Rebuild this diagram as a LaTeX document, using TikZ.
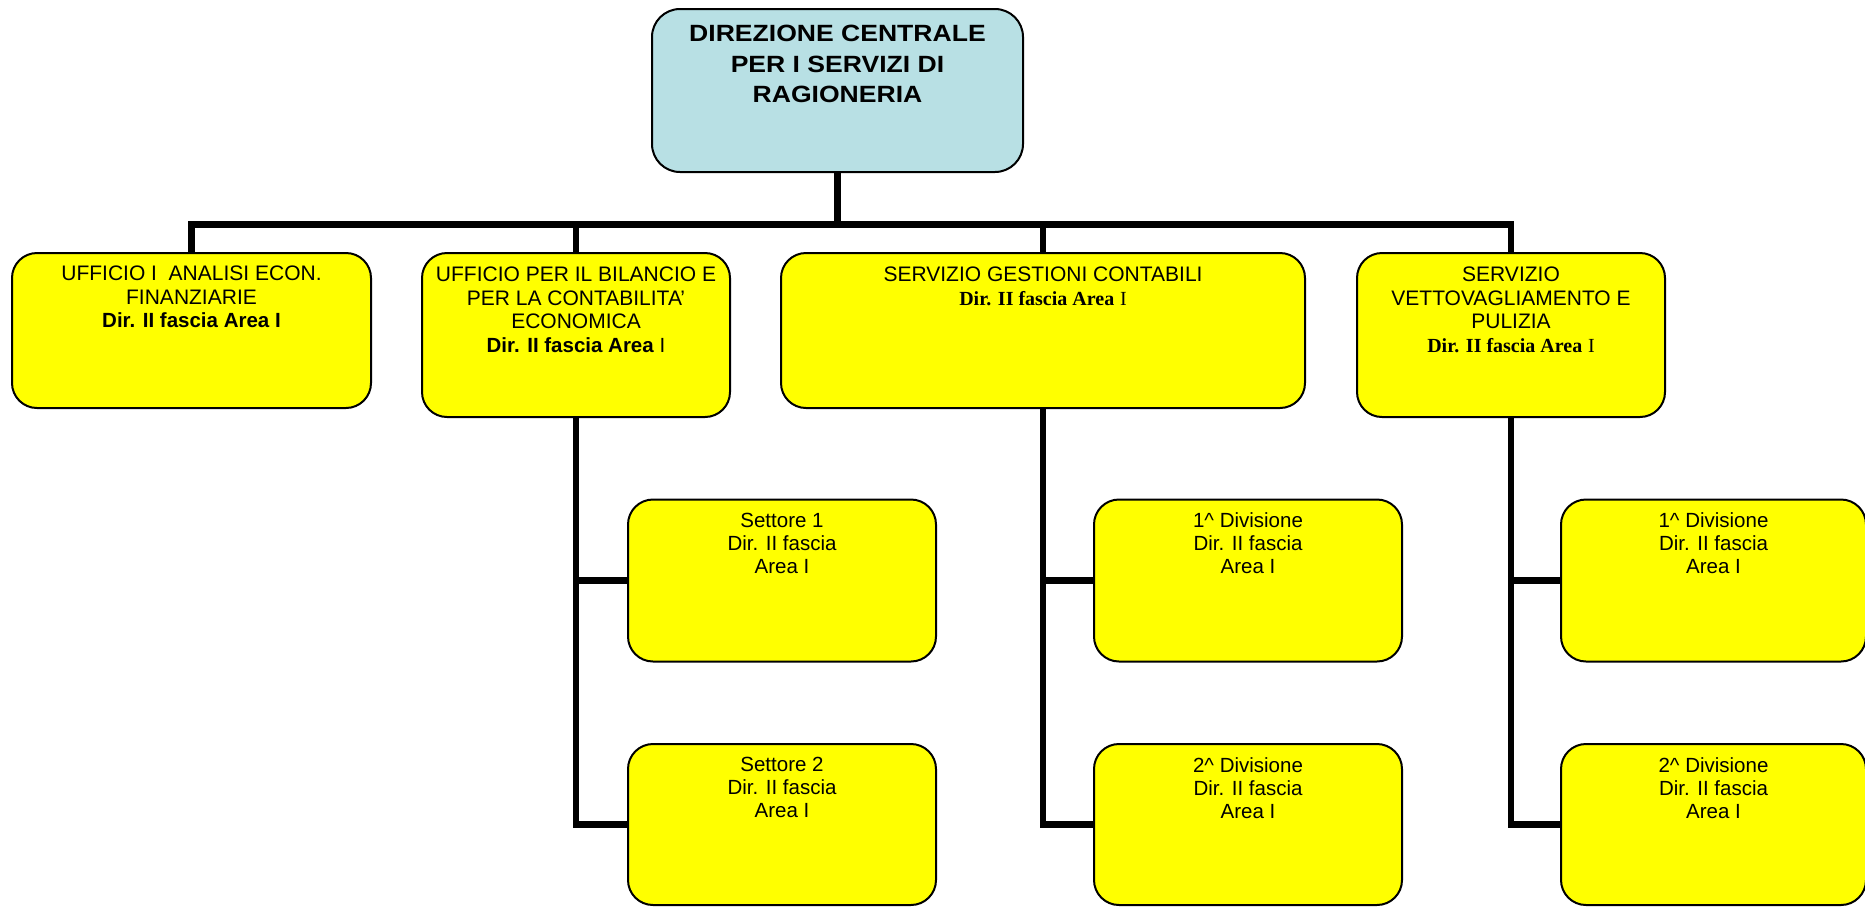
\documentclass[tikz,border=0pt]{standalone}
\usepackage{fontspec}
\setmainfont{Liberation Sans}
\newfontfamily\serifx{Liberation Serif}
\newfontfamily\topfont[FakeStretch=1.13]{Liberation Sans}
\definecolor{topblue}{RGB}{184,224,228}
\definecolor{boxyellow}{RGB}{255,255,0}
\begin{document}
\begin{tikzpicture}[x=1pt,y=-1pt,
  orgbox/.style={draw=black, line width=2pt, rounded corners=25pt, fill=boxyellow, inner sep=0pt},
  topbox/.style={orgbox, fill=topblue, rounded corners=28pt},
  lvlone/.style={orgbox, minimum width=#1, minimum height=155pt},
  lvlonetall/.style={orgbox, minimum width=#1, minimum height=164pt},
  lvltwo/.style={orgbox, minimum width=#1, minimum height=162pt},
  wire/.style={line width=6.5pt, line cap=butt, line join=miter},
  toptext/.style={anchor=north, align=center, inner sep=0pt, font=\topfont\bfseries\fontsize{23.5}{30.5}\selectfont},
  lvltext/.style={anchor=north, align=center, inner sep=0pt, font=\fontsize{21}{23.5}\selectfont},
  subtext/.style={anchor=north, align=center, inner sep=0pt, font=\fontsize{20.5}{23}\selectfont},
]
\useasboundingbox (0,0) rectangle (1865,906);
\clip (0,0) rectangle (1865,906);

% top box
\node[topbox, minimum width=371pt, minimum height=163pt] (T) at (837.5,90.5) {};
\node[toptext, below=17pt] (Tt) at (T.north) {DIREZIONE CENTRALE\\PER I SERVIZI DI\\RAGIONERIA};

% level one
\node[lvlone=359pt] (A) at (191.5,330.5) {};
\node[lvltext, below=14pt] (At) at (A.north) {UFFICIO I\ \ ANALISI ECON.\\FINANZIARIE\\{\bfseries\fontsize{20.5}{23.5}\selectfont Dir. II fascia Area I}};

\node[lvlonetall=308pt] (B) at (576,335) {};
\node[lvltext, below=15pt] (Bt) at (B.north) {UFFICIO PER IL BILANCIO E\\PER LA CONTABILITA’\\ECONOMICA\\{\bfseries\fontsize{20.5}{23.5}\selectfont Dir. II fascia Area} {\fontsize{20.5}{23.5}\selectfont I}};

\node[lvlone=524pt] (C) at (1043,330.5) {};
\node[lvltext, below=15pt] (Ct) at (C.north) {SERVIZIO GESTIONI CONTABILI\\{\serifx\bfseries\fontsize{20}{23}\selectfont Dir. II fascia Area} {\serifx\fontsize{20}{23}\selectfont I}};

\node[lvlonetall=308pt] (D) at (1511,335) {};
\node[lvltext, below=15pt] (Dt) at (D.north) {SERVIZIO\\VETTOVAGLIAMENTO E\\PULIZIA\\{\serifx\bfseries\fontsize{20}{23}\selectfont Dir. II fascia Area} {\serifx\fontsize{20}{23}\selectfont I}};

% level two
\node[lvltwo=308pt] (S1) at (782,580.5) {};
\node[subtext, below=14pt] (S1t) at (S1.north) {Settore 1\\Dir. II fascia\\Area I};
\node[lvltwo=308pt, minimum height=161pt] (S2) at (782,824.5) {};
\node[subtext, below=14pt] (S2t) at (S2.north) {Settore 2\\Dir. II fascia\\Area I};

\node[lvltwo=308pt] (C1) at (1248,580.5) {};
\node[subtext, below=14pt] (C1t) at (C1.north) {1\textasciicircum{} Divisione\\Dir. II fascia\\Area I};
\node[lvltwo=308pt, minimum height=161pt] (C2) at (1248,824.5) {};
\node[subtext, below=14pt] (C2t) at (C2.north) {2\textasciicircum{} Divisione\\Dir. II fascia\\Area I};

\node[lvltwo=305pt] (D1) at (1713.5,580.5) {};
\node[subtext, below=14pt] (D1t) at (D1.north) {1\textasciicircum{} Divisione\\Dir. II fascia\\Area I};
\node[lvltwo=305pt, minimum height=161pt] (D2) at (1713.5,824.5) {};
\node[subtext, below=14pt] (D2t) at (D2.north) {2\textasciicircum{} Divisione\\Dir. II fascia\\Area I};

% connectors
\coordinate (bus) at (838,224.5);
\draw[wire] (A.north) -- (A.north |- bus) -- (D.north |- bus) -- (D.north);
\draw[wire] (T.south) -- (T.south |- bus);
\draw[wire] (B.north) -- (B.north |- bus);
\draw[wire] (C.north) -- (C.north |- bus);

\draw[wire] (B.south) |- (S2.west);
\draw[wire] (B.south |- S1.west) -- (S1.west);
\draw[wire] (C.south) |- (C2.west);
\draw[wire] (C.south |- C1.west) -- (C1.west);
\draw[wire] (D.south) |- (D2.west);
\draw[wire] (D.south |- D1.west) -- (D1.west);
\end{tikzpicture}
\end{document}
